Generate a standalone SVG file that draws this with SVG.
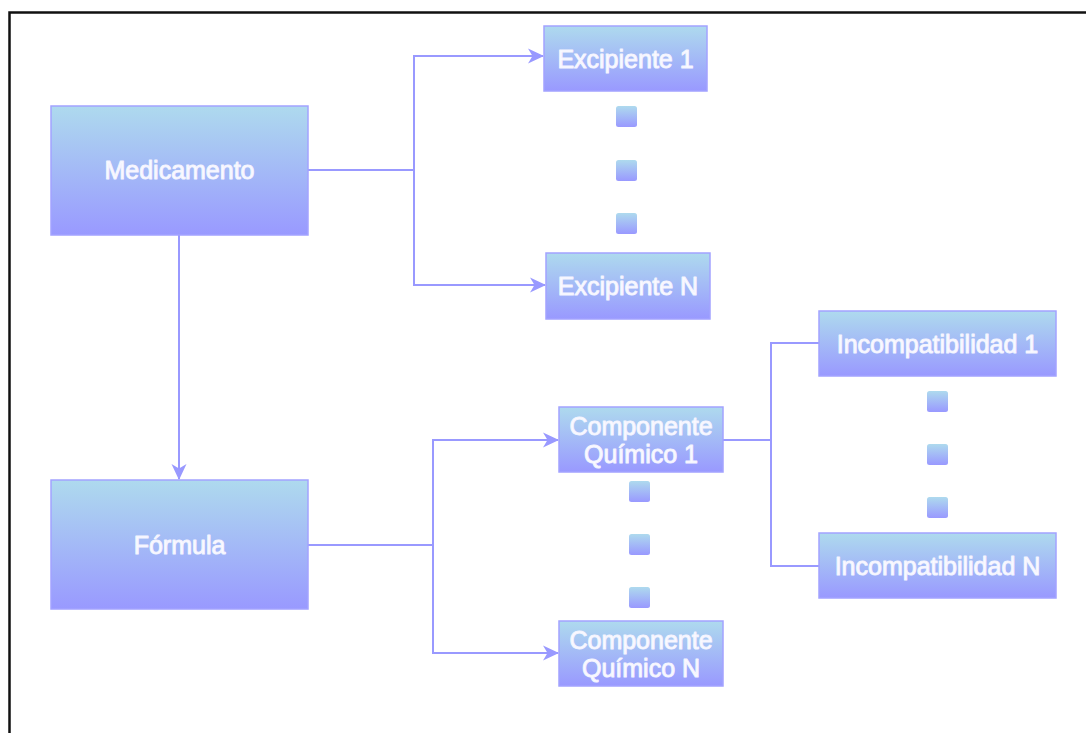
<svg xmlns="http://www.w3.org/2000/svg" width="1086" height="733" viewBox="0 0 1086 733">
  <defs>
    <linearGradient id="boxFill" x1="0" y1="0" x2="0" y2="1">
      <stop offset="0" stop-color="#aedaee"/>
      <stop offset="1" stop-color="#9999ff"/>
    </linearGradient>
    <marker id="arrow" viewBox="0 0 16 16" refX="15" refY="8" markerWidth="16" markerHeight="16" markerUnits="userSpaceOnUse" orient="auto">
      <path d="M0,0.5 L16,8 L0,15.5 L4.5,8 Z" fill="#9999ff"/>
    </marker>
  </defs>
  <style>
    .box { fill: url(#boxFill); stroke: #a3a3ff; stroke-width: 1.5; }
    .dot { fill: url(#boxFill); }
    .label { font-family: "Liberation Sans", Arial, sans-serif; font-size: 25px; fill: #fbfbff; stroke: #f4f4ff; stroke-width: 1; stroke-linejoin: round; text-anchor: middle; }
    .link { fill: none; stroke: #9999ff; stroke-width: 2; }
    .frame { fill: none; stroke: #111111; stroke-width: 2.5; }
  </style>

  <rect x="0" y="0" width="1086" height="733" fill="#ffffff"/>
  <!-- outer frame: left and top edges -->
  <polyline class="frame" points="9.5,733 9.5,12.5 1086,12.5"/>

  <!-- connectors -->
  <g id="connectors">
    <path class="link" d="M179,235 V479" marker-end="url(#arrow)"/>
    <path class="link" d="M308,170 H414 V56 H543" marker-end="url(#arrow)"/>
    <path class="link" d="M414,170 V285 H545" marker-end="url(#arrow)"/>
    <path class="link" d="M308,545 H433 V440 H558" marker-end="url(#arrow)"/>
    <path class="link" d="M433,545 V653 H558" marker-end="url(#arrow)"/>
    <path class="link" d="M723,440 H771 V343 H819"/>
    <path class="link" d="M771,440 V566 H819"/>
  </g>

  <g id="medicamento">
    <rect class="box" x="51" y="106" width="257" height="129"/>
    <text class="label" x="179.5" y="179">Medicamento</text>
  </g>
  <g id="formula">
    <rect class="box" x="51" y="480" width="257" height="129"/>
    <text class="label" x="179.5" y="554">Fórmula</text>
  </g>
  <g id="excipiente-1">
    <rect class="box" x="544" y="26" width="163" height="65"/>
    <text class="label" x="625.5" y="68">Excipiente 1</text>
  </g>
  <g id="excipiente-n">
    <rect class="box" x="546" y="253" width="164" height="66"/>
    <text class="label" x="628" y="295">Excipiente N</text>
  </g>
  <g id="componente-1">
    <rect class="box" x="559" y="407" width="164" height="65"/>
    <text class="label" x="641" y="434.5">Componente</text>
    <text class="label" x="641" y="462.5">Químico 1</text>
  </g>
  <g id="componente-n">
    <rect class="box" x="559" y="621" width="164" height="65"/>
    <text class="label" x="641" y="648.5">Componente</text>
    <text class="label" x="641" y="676.5">Químico N</text>
  </g>
  <g id="incompatibilidad-1">
    <rect class="box" x="819" y="311" width="237" height="65"/>
    <text class="label" x="937.5" y="352.5">Incompatibilidad 1</text>
  </g>
  <g id="incompatibilidad-n">
    <rect class="box" x="819" y="533" width="237" height="65"/>
    <text class="label" x="937.5" y="574.5">Incompatibilidad N</text>
  </g>

  <!-- ellipsis markers between first and last items -->
  <g id="dots-excipiente">
    <rect class="dot" x="616" y="106" width="21" height="21" rx="2.5"/>
    <rect class="dot" x="616" y="160" width="21" height="21" rx="2.5"/>
    <rect class="dot" x="616" y="213" width="21" height="21" rx="2.5"/>
  </g>
  <g id="dots-componente">
    <rect class="dot" x="629" y="481" width="21" height="21" rx="2.5"/>
    <rect class="dot" x="629" y="534" width="21" height="21" rx="2.5"/>
    <rect class="dot" x="629" y="587" width="21" height="21" rx="2.5"/>
  </g>
  <g id="dots-incompatibilidad">
    <rect class="dot" x="927" y="391" width="21" height="21" rx="2.5"/>
    <rect class="dot" x="927" y="444" width="21" height="21" rx="2.5"/>
    <rect class="dot" x="927" y="497" width="21" height="21" rx="2.5"/>
  </g>
</svg>
